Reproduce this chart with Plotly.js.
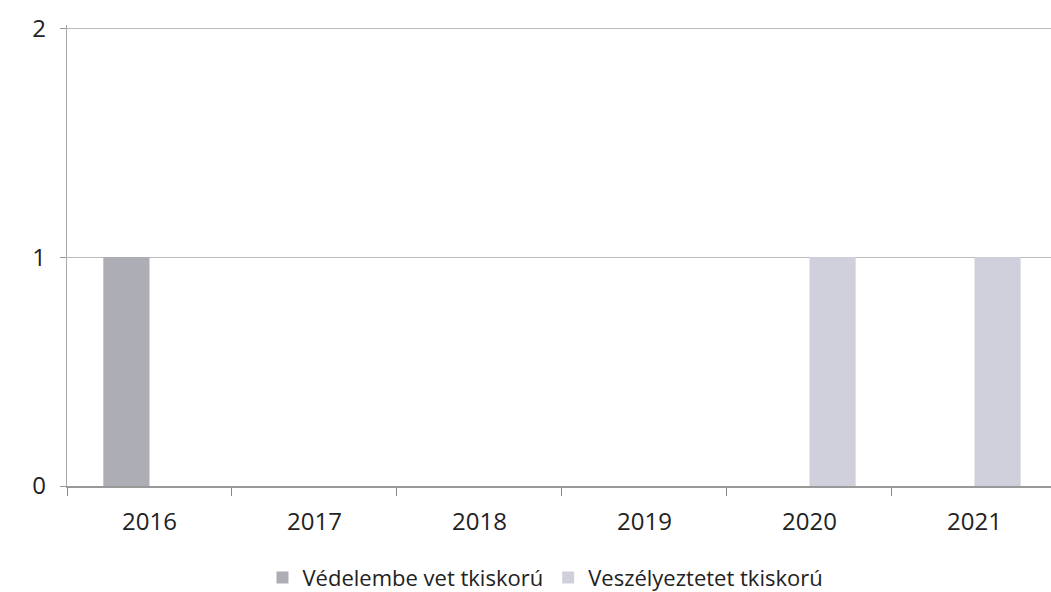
<!DOCTYPE html>
<html>
<head>
<meta charset="utf-8">
<script src="https://cdn.plot.ly/plotly-3.0.1.min.js"></script>
<style>html,body{margin:0;padding:0;background:#fff;overflow:hidden}</style>
</head>
<body>
<div id="chart" style="width:1051px;height:592px"></div>
<script>
const years = ["2016", "2017", "2018", "2019", "2020", "2021"];
const vedelembe = [1, 0, 0, 0, 0, 0];
const veszelyeztetett = [0, 0, 0, 0, 1, 1];
const seriesNames = ["Védelembe vet tkiskorú", "Veszélyeztetet tkiskorú"];

const font = {family: "Open Sans, Noto Sans, sans-serif", size: 24, color: "#222"};

const traces = [
  {type: "bar", name: seriesNames[0], x: years, y: vedelembe,
   marker: {color: "#adadb5", line: {width: 0}}},
  {type: "bar", name: seriesNames[1], x: years, y: veszelyeztetett,
   marker: {color: "#d0d0dc", line: {width: 0}}}
];

const layout = {
  width: 1051, height: 592,
  margin: {l: 67, r: 0, t: 25, b: 106},
  paper_bgcolor: "#fff", plot_bgcolor: "#fff",
  barmode: "group", bargap: 0.44, bargroupgap: 0,
  font: font,
  showlegend: true,
  legend: {orientation: "h", x: 0.519, xref: "container", xanchor: "center",
           y: 0.024, yref: "container", yanchor: "middle",
           font: {family: "Open Sans, Noto Sans, sans-serif", size: 22, color: "#222"},
           itemwidth: 30, tracegroupgap: 0},
  xaxis: {type: "category", range: [-0.5, 5.464], showgrid: false,
          ticks: "outside", tickson: "boundaries", ticklen: 8, tickcolor: "#888",
          showline: true, linecolor: "#999", linewidth: 1.5,
          ticklabelstandoff: 14,
          tickfont: font, fixedrange: true},
  yaxis: {range: [0, 2.014], tickvals: [0, 1, 2], showgrid: true, gridcolor: "#bbb", gridwidth: 1.2,
          zeroline: false, showline: true, linecolor: "#aaa", linewidth: 1.2,
          ticks: "outside", ticklen: 6, tickcolor: "#999", ticklabelstandoff: 9,
          tickfont: font, fixedrange: true}
};

Plotly.newPlot("chart", traces, layout, {displayModeBar: false, staticPlot: true});
</script>
</body>
</html>
